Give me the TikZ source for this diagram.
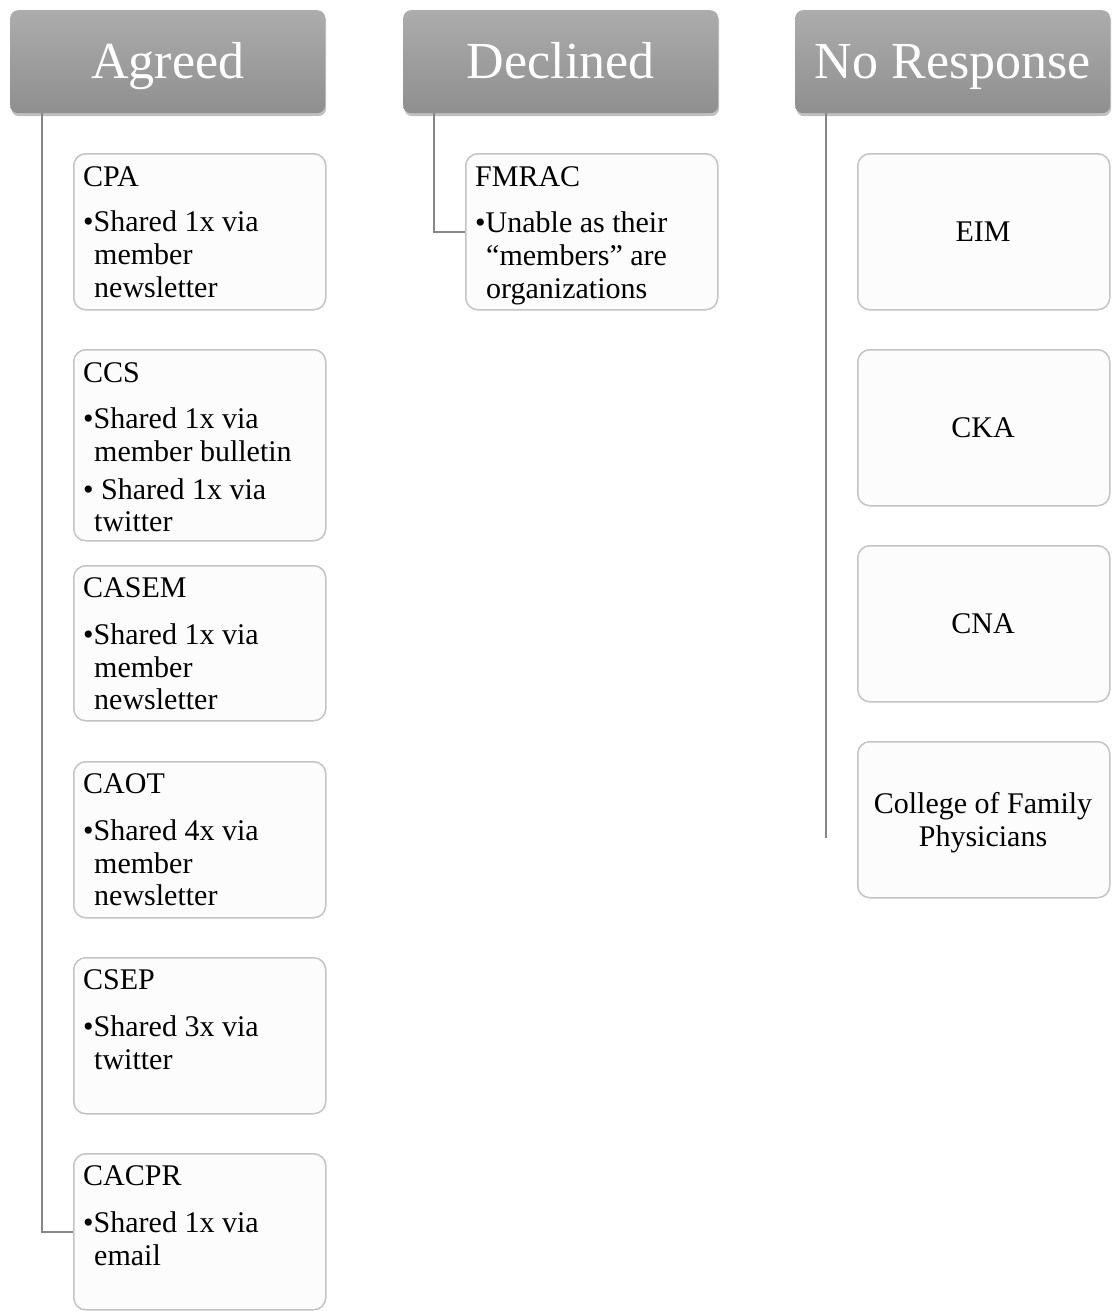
\documentclass[tikz,border=0pt]{standalone}
\usepackage{fontspec}
\setmainfont{Liberation Serif}
\usetikzlibrary{shadows}
\definecolor{hdtop}{RGB}{172,172,172}
\definecolor{hdbot}{RGB}{143,143,143}
\definecolor{bxfill}{RGB}{252,252,252}
\definecolor{bxline}{RGB}{196,196,196}
\definecolor{conncol}{RGB}{135,135,135}
\begin{document}
\begin{tikzpicture}[x=1pt,y=-1pt,
 hdr/.style={rectangle, rounded corners=8pt, top color=hdtop, bottom color=hdbot, draw=none,
   minimum width=315pt, minimum height=103pt, anchor=north west, inner sep=0pt, text=white,
   text height=40pt, text depth=7pt,
   font=\fontsize{52}{60}\selectfont,
   drop shadow={shadow xshift=1pt, shadow yshift=-3pt, opacity=0.35, fill=black!70}},
 cbox/.style={rectangle, rounded corners=12pt, fill=bxfill, draw=bxline, line width=1.5pt,
   minimum width=252pt, anchor=north west, inner sep=0pt},
 txt/.style={anchor=base west, inner sep=0pt, font=\fontsize{30}{33}\selectfont},
 ctxt/.style={anchor=base, inner sep=0pt, font=\fontsize{30}{33}\selectfont},
 conn/.style={draw=conncol, line width=2pt}]
\useasboundingbox (0,0) rectangle (1111,1311);
\fill[white] (0,0) rectangle (1111,1311);

% headers
\node[hdr] (agr) at (10,10) {Agreed};
\node[hdr] (dec) at (403,10) {Declined};
\node[hdr] (nor) at (795,10) {No Response};

% Agreed column boxes
\node[cbox, minimum height=156pt] (cpa) at (73,153) {};
\node[cbox, minimum height=191pt] (ccs) at (73,349) {};
\node[cbox, minimum height=155pt] (casem) at (73,565) {};
\node[cbox, minimum height=156pt] (caot) at (73,761) {};
\node[cbox, minimum height=156pt] (csep) at (73,957) {};
\node[cbox, minimum height=156pt] (cacpr) at (73,1153) {};

% Declined
\node[cbox, minimum height=156pt] (fmrac) at (465,153) {};

% No response
\node[cbox, minimum height=156pt] (eim) at (857,153) {};
\node[cbox, minimum height=156pt] (cka) at (857,349) {};
\node[cbox, minimum height=156pt] (cna) at (857,545) {};
\node[cbox, minimum height=156pt] (cfp) at (857,741) {};

% connectors
\coordinate (nrend) at (826,838);
\draw[conn] ([xshift=32pt]agr.south west) |- (cacpr.west);
\draw[conn] ([xshift=31pt]dec.south west) |- (fmrac.west);
\draw[conn] ([xshift=31pt]nor.south west) -- (nrend);

% texts: CPA
\node[txt] (cpa0) at (83,186) {CPA};
\node[txt] (cpa1) at (83,231) {•Shared 1x via};
\node[txt] (cpa2) at (94,264) {member};
\node[txt] (cpa3) at (94,297) {newsletter};
% CCS
\node[txt] (ccs0) at (83,382) {CCS};
\node[txt] (ccs1) at (83,428) {•Shared 1x via};
\node[txt] (ccs2) at (94,461) {member bulletin};
\node[txt] (ccs3) at (83,499) {• Shared 1x via};
\node[txt] (ccs4) at (94,531) {twitter};
% CASEM
\node[txt] (cas0) at (83,597) {CASEM};
\node[txt] (cas1) at (83,644) {•Shared 1x via};
\node[txt] (cas2) at (94,677) {member};
\node[txt] (cas3) at (94,709) {newsletter};
% CAOT
\node[txt] (cao0) at (83,793) {CAOT};
\node[txt] (cao1) at (83,840) {•Shared 4x via};
\node[txt] (cao2) at (94,873) {member};
\node[txt] (cao3) at (94,905) {newsletter};
% CSEP
\node[txt] (cse0) at (83,989) {CSEP};
\node[txt] (cse1) at (83,1036) {•Shared 3x via};
\node[txt] (cse2) at (94,1069) {twitter};
% CACPR
\node[txt] (cac0) at (83,1185) {CACPR};
\node[txt] (cac1) at (83,1232) {•Shared 1x via};
\node[txt] (cac2) at (94,1265) {email};
% FMRAC
\node[txt] (fmr0) at (475,186) {FMRAC};
\node[txt] (fmr1) at (475,232) {•Unable as their};
\node[txt] (fmr2) at (486,265) {“members” are};
\node[txt] (fmr3) at (486,298) {organizations};
% No response
\node[ctxt] (eimt) at (983,241) {EIM};
\node[ctxt] (ckat) at (983,437) {CKA};
\node[ctxt] (cnat) at (983,633) {CNA};
\node[ctxt] (cfp1) at (983,813) {College of Family};
\node[ctxt] (cfp2) at (983,846) {Physicians};
\end{tikzpicture}
\end{document}
